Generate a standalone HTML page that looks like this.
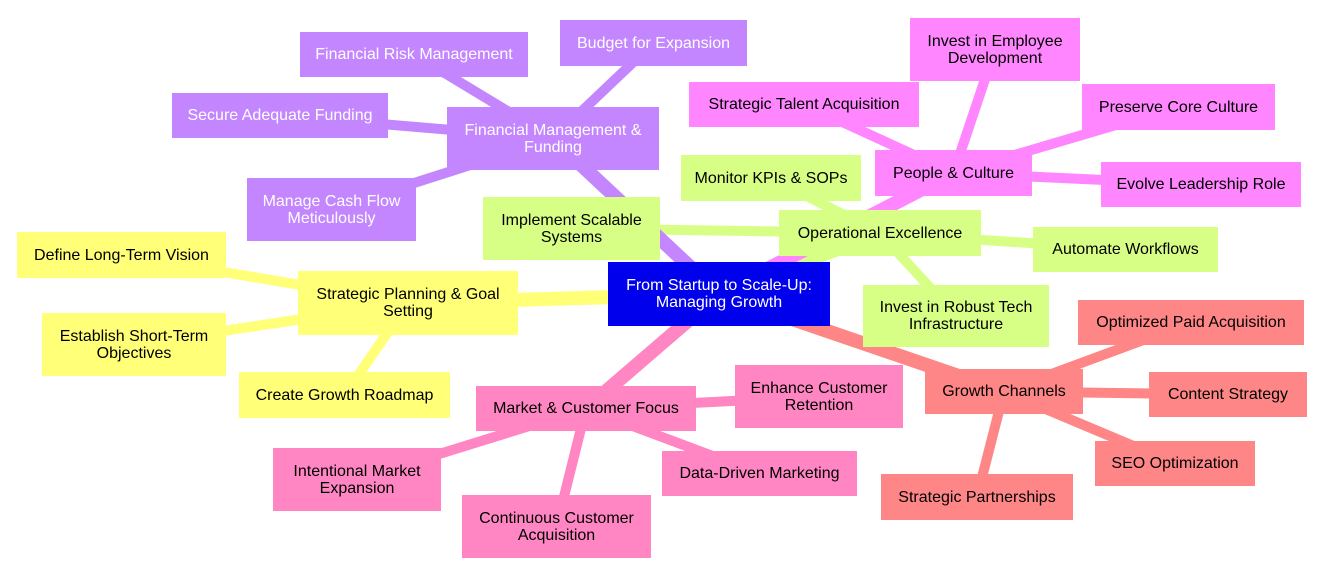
<!DOCTYPE html>
<html><head><meta charset="utf-8">
<style>
html,body{margin:0;padding:0;background:#fff;}
body{width:1321px;height:572px;position:relative;overflow:hidden;font-family:"Liberation Sans",Arial,sans-serif;}
svg{position:absolute;left:0;top:0;}
.n{position:absolute;display:flex;align-items:center;justify-content:center;text-align:center;font-size:16px;line-height:17px;color:#000;box-sizing:border-box;white-space:nowrap;}
.y{background:#ffff78}.g{background:#d7ff86}.p{background:#c386ff;color:#fff}.m{background:#ff86ff}.k{background:#ff86c3}.r{background:#ff8686}.b{background:#0000ec;color:#fff}
</style></head><body>
<svg width="1321" height="572" xmlns="http://www.w3.org/2000/svg">
<g stroke-linecap="butt" fill="none">
<!-- child edges -->
<g stroke-width="10">
<g stroke="#c386ff">
<line x1="553" y1="138.5" x2="414" y2="54.5"/>
<line x1="553" y1="138.5" x2="653.5" y2="43"/>
<line x1="553" y1="138.5" x2="280" y2="115.5"/>
<line x1="553" y1="138.5" x2="331.5" y2="209.5"/>
</g>
<g stroke="#d7ff86">
<line x1="880" y1="233" x2="771" y2="178"/>
<line x1="880" y1="233" x2="571.5" y2="228.5"/>
<line x1="880" y1="233" x2="1125.5" y2="249.5"/>
<line x1="880" y1="233" x2="956" y2="316"/>
</g>
<g stroke="#ff86ff">
<line x1="953.5" y1="173" x2="804" y2="104.5"/>
<line x1="953.5" y1="173" x2="995" y2="49.5"/>
<line x1="953.5" y1="173" x2="1178.5" y2="106.5"/>
<line x1="953.5" y1="173" x2="1201" y2="184.5"/>
</g>
<g stroke="#ffff78">
<line x1="408" y1="303" x2="121.5" y2="255"/>
<line x1="408" y1="303" x2="134" y2="344.5"/>
<line x1="408" y1="303" x2="344.5" y2="395"/>
</g>
<g stroke="#ff86c3">
<line x1="586" y1="408.5" x2="819" y2="396.5"/>
<line x1="586" y1="408.5" x2="759.5" y2="473.5"/>
<line x1="586" y1="408.5" x2="357" y2="479.5"/>
<line x1="586" y1="408.5" x2="556.5" y2="526.5"/>
</g>
<g stroke="#ff8686">
<line x1="1004" y1="391.5" x2="1191" y2="322.5"/>
<line x1="1004" y1="391.5" x2="1228" y2="394.5"/>
<line x1="1004" y1="391.5" x2="1175" y2="463.5"/>
<line x1="1004" y1="391.5" x2="977" y2="497"/>
</g>
</g>
<!-- root edges -->
<g stroke-width="14">
<line x1="719" y1="294" x2="408" y2="303" stroke="#ffff78"/>
<line x1="719" y1="294" x2="880" y2="233" stroke="#d7ff86"/>
<line x1="719" y1="294" x2="553" y2="138.5" stroke="#c386ff"/>
<line x1="719" y1="294" x2="953.5" y2="173" stroke="#ff86ff"/>
<line x1="719" y1="294" x2="586" y2="408.5" stroke="#ff86c3"/>
<line x1="719" y1="294" x2="1004" y2="391.5" stroke="#ff8686"/>
</g>
</g>
</svg>

<!-- Purple -->
<div class="n p" style="left:447px;top:107px;width:212px;height:63px">Financial Management &amp;<br>Funding</div>
<div class="n p" style="left:300px;top:32px;width:228px;height:45px">Financial Risk Management</div>
<div class="n p" style="left:560px;top:20px;width:187px;height:46px">Budget for Expansion</div>
<div class="n p" style="left:172px;top:93px;width:216px;height:45px">Secure Adequate Funding</div>
<div class="n p" style="left:247px;top:178px;width:169px;height:63px">Manage Cash Flow<br>Meticulously</div>

<!-- Green -->
<div class="n g" style="left:779px;top:210px;width:202px;height:46px">Operational Excellence</div>
<div class="n g" style="left:681px;top:155px;width:180px;height:46px">Monitor KPIs &amp; SOPs</div>
<div class="n g" style="left:483px;top:197px;width:177px;height:63px">Implement Scalable<br>Systems</div>
<div class="n g" style="left:1033px;top:227px;width:185px;height:45px">Automate Workflows</div>
<div class="n g" style="left:863px;top:285px;width:186px;height:62px">Invest in Robust Tech<br>Infrastructure</div>

<!-- Magenta -->
<div class="n m" style="left:875px;top:150px;width:157px;height:46px">People &amp; Culture</div>
<div class="n m" style="left:689px;top:82px;width:230px;height:45px">Strategic Talent Acquisition</div>
<div class="n m" style="left:910px;top:18px;width:170px;height:63px">Invest in Employee<br>Development</div>
<div class="n m" style="left:1082px;top:84px;width:193px;height:46px">Preserve Core Culture</div>
<div class="n m" style="left:1101px;top:162px;width:200px;height:45px">Evolve Leadership Role</div>

<!-- Yellow -->
<div class="n y" style="left:298px;top:271px;width:220px;height:64px">Strategic Planning &amp; Goal<br>Setting</div>
<div class="n y" style="left:17px;top:232px;width:209px;height:46px">Define Long-Term Vision</div>
<div class="n y" style="left:42px;top:313px;width:184px;height:63px">Establish Short-Term<br>Objectives</div>
<div class="n y" style="left:239px;top:372px;width:211px;height:46px">Create Growth Roadmap</div>

<!-- Pink -->
<div class="n k" style="left:476px;top:386px;width:220px;height:45px">Market &amp; Customer Focus</div>
<div class="n k" style="left:735px;top:365px;width:168px;height:63px">Enhance Customer<br>Retention</div>
<div class="n k" style="left:662px;top:451px;width:195px;height:45px">Data-Driven Marketing</div>
<div class="n k" style="left:273px;top:448px;width:168px;height:63px">Intentional Market<br>Expansion</div>
<div class="n k" style="left:462px;top:495px;width:189px;height:63px">Continuous Customer<br>Acquisition</div>

<!-- Red -->
<div class="n r" style="left:925px;top:369px;width:158px;height:45px">Growth Channels</div>
<div class="n r" style="left:1078px;top:300px;width:226px;height:45px">Optimized Paid Acquisition</div>
<div class="n r" style="left:1149px;top:372px;width:158px;height:45px">Content Strategy</div>
<div class="n r" style="left:1095px;top:441px;width:160px;height:45px">SEO Optimization</div>
<div class="n r" style="left:881px;top:474px;width:192px;height:46px">Strategic Partnerships</div>

<!-- Root -->
<div class="n b" style="left:608px;top:262px;width:222px;height:64px">From Startup to Scale-Up:<br>Managing Growth</div>
</body></html>
